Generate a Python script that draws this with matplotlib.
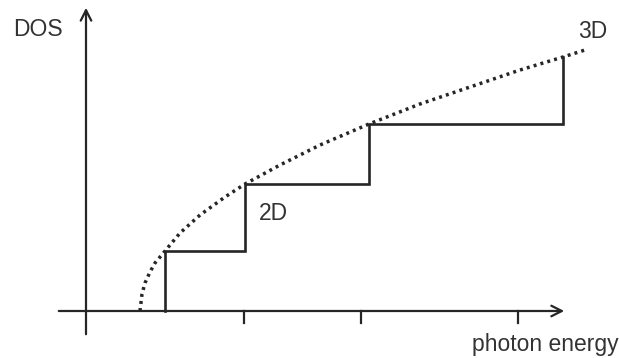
import matplotlib.pyplot as plt

plt.rcParams['font.family'] = ['Liberation Sans', 'DejaVu Sans']

# 3D density of states (dotted curve)
e_3d = [54, 56, 59, 64, 69, 79, 94, 114, 139, 159, 194, 234, 283, 334, 384, 434, 477, 499]
dos_3d = [0, 17, 28, 39, 48, 60, 78, 96, 114, 127, 146, 166, 187, 207, 224, 241, 254, 261]

# 2D density of states (staircase)
e_steps = [79, 159, 283, 477]
dos_steps = [60, 127, 187, 254]

# x tick positions
x_ticks = [158, 275, 432]

ink = '#262626'
txt = '#333333'

fig = plt.figure(figsize=(6.19, 3.58), dpi=100)
ax = fig.add_axes([0, 0, 1, 1])
ax.set_xlim(-86, 533)
ax.set_ylim(-47, 311)
ax.axis('off')

# axes with arrows
arrow = dict(arrowstyle='->,head_length=0.75,head_width=0.38', color=ink, lw=1.6)
ax.annotate('', xy=(0, 306), xytext=(0, -26), arrowprops=arrow)
ax.annotate('', xy=(481, 0), xytext=(-30, 0), arrowprops=arrow)
for t in x_ticks:
    ax.plot([t, t], [0, -12], color=ink, lw=1.6)

# staircase
xs, ys = [e_steps[0]], [0]
for i, lvl in enumerate(dos_steps):
    xs.append(e_steps[i])
    ys.append(lvl)
    if i + 1 < len(e_steps):
        xs.append(e_steps[i + 1])
        ys.append(lvl)
ax.plot(xs, ys, color=ink, lw=1.9, solid_joinstyle='miter')

# 3D curve
ax.plot(e_3d, dos_3d, color=ink, lw=2.5, linestyle=(0, (0.85, 1.2)))

fs = 16.5
ax.text(-73, 281, 'DOS', fontsize=fs, color=txt, va='center', ha='left')
ax.text(173, 98, '2D', fontsize=fs, color=txt, va='center', ha='left')
ax.text(492, 279, '3D', fontsize=fs, color=txt, va='center', ha='left')
ax.text(386, -34, 'photon energy', fontsize=fs, color=txt, va='center', ha='left')

fig.savefig('out.png', dpi=100)
